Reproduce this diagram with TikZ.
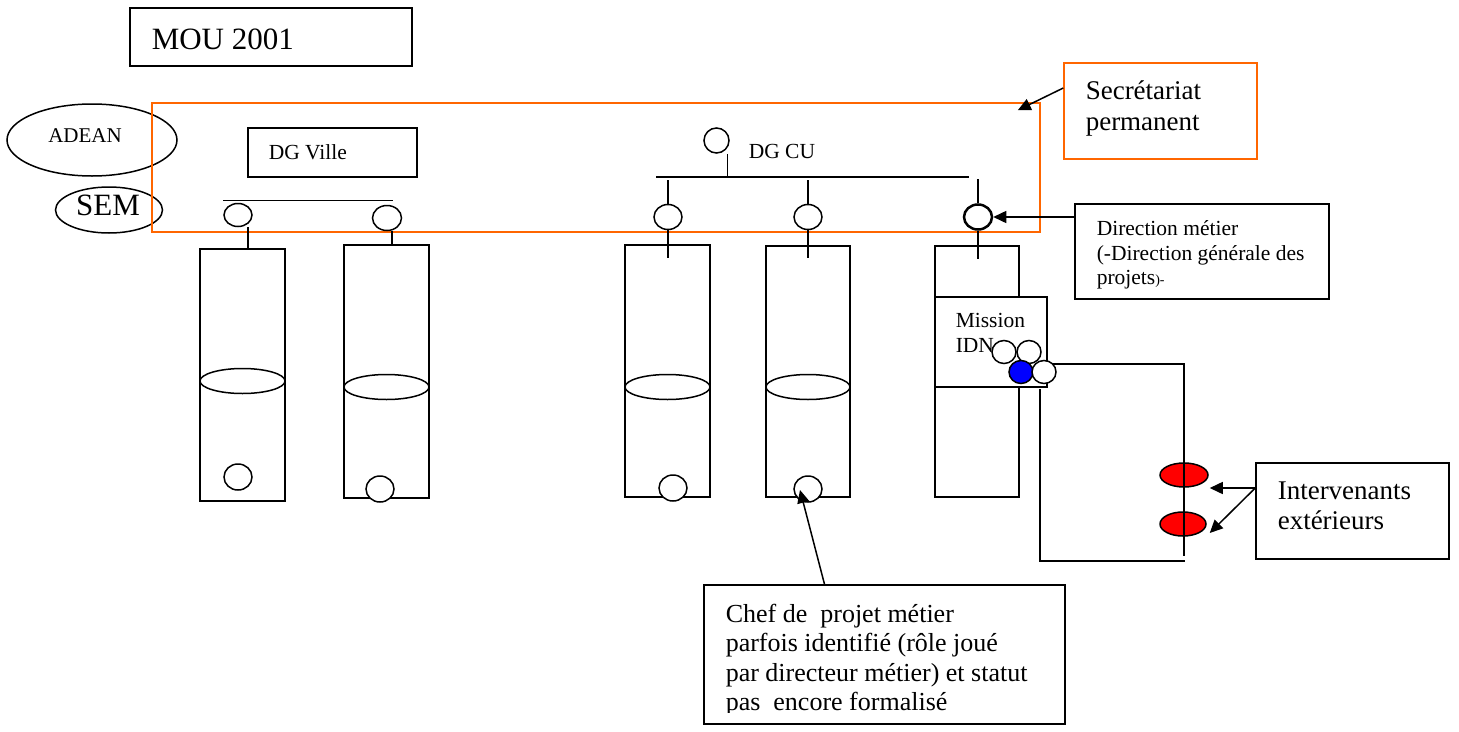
\documentclass[tikz,border=0pt]{standalone}
\usepackage{fontspec}
\setmainfont{Liberation Serif}
\usetikzlibrary{shapes.geometric,arrows.meta}
\definecolor{secorange}{RGB}{255,102,0}
\newcommand{\smalltxt}{\fontsize{21.5}{25}\selectfont}
\newcommand{\midtxt}{\fontsize{26}{29.5}\selectfont}
\newcommand{\bigtxt}{\fontsize{27}{31}\selectfont}
\newcommand{\titletxt}{\fontsize{31}{36}\selectfont}
\tikzset{
	box/.style={draw, rectangle, inner sep=0pt},
	colbox/.style={box, minimum width=85pt, minimum height=252pt},
	ring/.style={draw, ellipse, inner sep=0pt},
	knob/.style={ring, fill=white, minimum width=28pt, minimum height=25pt},
	lbl/.style={inner sep=0pt, anchor=base west},
	arr/.style={-{Triangle[length=13pt,width=12pt]}},
}
\begin{document}
\begin{tikzpicture}[x=1pt,y=-1pt,line width=1.5pt]
	\useasboundingbox (0,0) rectangle (1459,731);
	
	
	
	\node[box, minimum width=282pt, minimum height=58pt] (mou) at (271,37) {};
	\node[lbl, font=\titletxt] (moutxt) at (151,49) {MOU 2001};
	
	\node[ring, minimum width=170pt, minimum height=72pt] (adean) at (92,140) {};
	\node[inner sep=0pt, font=\fontsize{21}{25}\selectfont] (adeantxt) at (85,136) {ADEAN};
	\node[ring, minimum width=107pt, minimum height=46pt] (sem) at (109,210) {};
	\node[inner sep=0pt, font=\fontsize{31}{36}\selectfont] (semtxt) at (108,205) {SEM};
	
	\node[box, draw=secorange, minimum width=888pt, minimum height=129pt] (sp) at (596,167.5) {};
	
	
	
	\node[box, minimum width=169pt, minimum height=49pt] (dgv) at (332.5,152.5) {};
	\node[lbl, font=\smalltxt] (dgvtxt) at (268,159) {DG Ville};
	\coordinate (dgvL) at (223,200.5);
	\coordinate (dgvR) at (393,200.5);
	\draw (dgvL) -- (dgvR);
	
	\node[knob, minimum height=23pt] (v1) at (238,215) {};
	\node[knob, minimum width=29pt] (v2) at (387,218) {};
	
	\node[knob, minimum width=25pt] (cu) at (716.5,140.5) {};
	\node[lbl, font=\smalltxt] (cutxt) at (748,158) {DG CU};
	\coordinate (cuL) at (656,177);
	\coordinate (cuR) at (969,177);
	\draw (cuL) -- (cuR);
	\draw ([shift={(11,0)}]cu.south) -- ([shift={(11,0)}]cu.south |- cuL);
	
	\node[knob] (c1) at (668,217) {};
	\node[knob] (c2) at (808,217) {};
	\node[knob, line width=2.5pt] (c3) at (978,217) {};
	\draw (c1.north) -- ++(0,-24);
	\draw (c2.north) -- ++(0,-24);
	\draw (c3.north) -- ++(0,-24);
	
	
	
	\node[colbox] (col1) at (242.5,375) {};
	\node[colbox, minimum height=253pt] (col2) at (386.5,371.5) {};
	\node[colbox] (col3) at (667.5,371) {};
	\node[colbox, minimum width=84pt, minimum height=251pt] (col4) at (808,371.5) {};
	\node[colbox, minimum width=84pt, minimum height=251pt] (col5) at (977,371.5) {};
	
	\draw ([shift={(10,0)}]v1.south) -- ([shift={(10,0)}]v1.south |- col1.north);
	\draw ([shift={(5,0)}]v2.south) -- ([shift={(5,0)}]v2.south |- col2.north);
	\draw (c1.south) -- ++(0,28);
	\draw (c2.south) -- ++(0,28);
	\draw (c3.south) -- ++(0,28);
	
	\node[ring, minimum width=85pt, minimum height=25pt] (e1) at (242.5,381) {};
	\node[ring, minimum width=85pt, minimum height=25pt] (e2) at (386.5,387) {};
	\node[ring, minimum width=85pt, minimum height=25pt] (e3) at (667.5,387) {};
	\node[ring, minimum width=84pt, minimum height=25pt] (e4) at (808,387) {};
	
	\node[knob, minimum height=26pt] (b1) at (238,477) {};
	\node[knob, minimum height=26pt] (b2) at (380,489) {};
	\node[knob, minimum height=26pt] (b3) at (673,488) {};
	\node[knob, minimum height=26pt] (b4) at (808,489) {};
	
	
	
	\node[box, fill=white, minimum width=112pt, minimum height=90pt] (idn) at (991,342) {};
	\node[lbl, font=\smalltxt] (idntxt1) at (955,327) {Mission};
	\node[lbl, font=\smalltxt] (idntxt2) at (955,352) {IDN};
	
	\node[ring, fill=red, minimum width=48pt, minimum height=24pt] (ext1) at (1184,475) {};
	\node[ring, fill=red, minimum width=46pt, minimum height=24pt] (ext2) at (1183,524) {};
	
	\coordinate (brtop) at (1184,364);
	\coordinate (brbot) at (1184,556);
	\coordinate (brleft) at (1040,389);
	\coordinate (brend) at (1185,561);
	\draw (1044,364) -- (brtop) -- (brbot);
	\draw (brleft) |- (brend);
	
	\node[knob, minimum width=24pt, minimum height=23pt] (ka) at (1004,352) {};
	\node[knob, minimum width=24pt, minimum height=23pt] (kb) at (1029,352) {};
	\node[knob, fill=blue, minimum width=24pt, minimum height=23pt] (kblue) at (1021,372) {};
	\node[knob, minimum width=24pt, minimum height=23pt] (kc) at (1044,372) {};
	
	
	
	\node[box, draw=secorange, minimum width=193pt, minimum height=96pt] (sec) at (1160.5,111) {};
	\node[lbl, font=\bigtxt] (sectxt1) at (1085,99) {Secrétariat};
	\node[lbl, font=\bigtxt] (sectxt2) at (1085,130) {permanent};
	\draw[arr] ([shift={(0,-23)}]sec.west) -- ([shift={(-23,8)}]sp.north east);
	
	\node[box, minimum width=254pt, minimum height=95pt] (dm) at (1202,251.5) {};
	\node[lbl, font=\smalltxt] (dmtxt1) at (1096,235) {Direction métier};
	\node[lbl, font=\smalltxt] (dmtxt2) at (1096,260) {(-Direction générale des};
	\node[lbl, font=\smalltxt] (dmtxt3) at (1096,284) {projets{\fontsize{14}{16}\selectfont)-}};
	\draw[arr] (c3.east -| dm.west) -- (c3.east);
	
	\node[box, minimum width=193pt, minimum height=96pt] (intv) at (1352.5,511) {};
	\node[lbl, font=\bigtxt] (intvtxt1) at (1277,499) {Intervenants};
	\node[lbl, font=\bigtxt] (intvtxt2) at (1277,529) {extérieurs};
	\draw[arr] ([shift={(0,-23)}]intv.west) -- ([shift={(1,13)}]ext1.east);
	\draw[arr] ([shift={(0,-23)}]intv.west) -- ([shift={(3,9)}]ext2.east);
	
	\node[box, minimum width=361pt, minimum height=139pt] (chef) at (884.5,654.5) {};
	\begin{scope}
		\clip (704,585) rectangle (1065,712.5);
		\node[lbl, font=\midtxt] (cheftxt1) at (725,622) {Chef de~ projet métier};
		\node[lbl, font=\midtxt] (cheftxt2) at (725,651.5) {parfois identifié (rôle joué};
		\node[lbl, font=\midtxt] (cheftxt3) at (725,681) {par directeur métier) et statut};
		\node[lbl, font=\midtxt] (cheftxt4) at (725,710.5) {pas~ encore formalisé};
	\end{scope}
	\draw[arr] ([shift={(-60,0)}]chef.north) -- ([shift={(-8,1)}]b4.center);
	
\end{tikzpicture}
\end{document}
